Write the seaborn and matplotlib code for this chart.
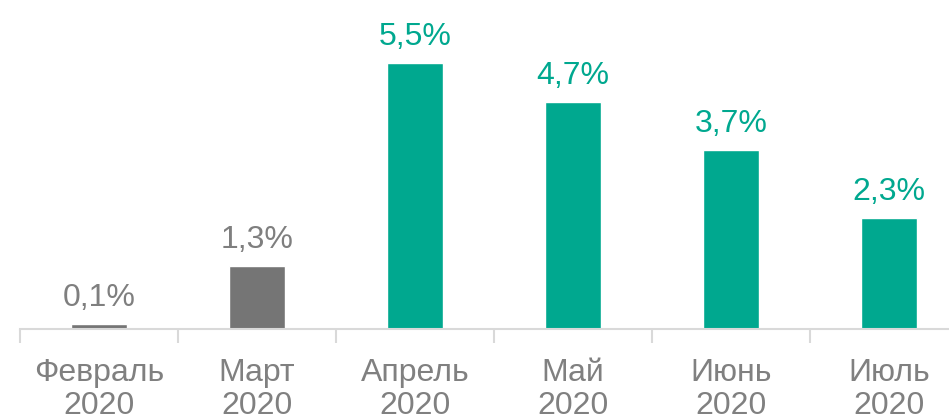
import matplotlib
matplotlib.use("Agg")
import matplotlib.pyplot as plt
import seaborn as sns
import pandas as pd

# данные
months = ["Февраль\n2020", "Март\n2020", "Апрель\n2020", "Май\n2020", "Июнь\n2020", "Июль\n2020"]
values = [0.1, 1.3, 5.5, 4.7, 3.7, 2.3]
labels = ["0,1%", "1,3%", "5,5%", "4,7%", "3,7%", "2,3%"]
bar_colors = ["#757575", "#757575", "#00A88F", "#00A88F", "#00A88F", "#00A88F"]
label_colors = ["#7F7F7F", "#7F7F7F", "#00A88F", "#00A88F", "#00A88F", "#00A88F"]

sns.set_theme(style="white")
plt.rcParams["font.family"] = ["Liberation Sans", "DejaVu Sans"]

df = pd.DataFrame({"month": months, "value": values})

fig = plt.figure(figsize=(9.49, 4.16), dpi=100)
ax = fig.add_axes([20 / 949, 87 / 416, 929 / 949, 329 / 416])

sns.barplot(data=df, x="month", y="value", hue="month", palette=bar_colors,
            width=0.355, legend=False, ax=ax, saturation=1)

for i, (v, t) in enumerate(zip(values, labels)):
    ax.annotate(t, (i, v), xytext=(0, 13), textcoords="offset points",
                ha="center", va="baseline", fontsize=23, color=label_colors[i])

for s in ["top", "right", "left"]:
    ax.spines[s].set_visible(False)
ax.spines["bottom"].set_color("#D9D9D9")
ax.spines["bottom"].set_linewidth(1.5)

ax.set_yticks([])
ax.set_xlabel("")
ax.set_ylabel("")
ax.set_xticks(range(len(months)))
ax.set_xticklabels(months, fontsize=23, color="#808080", linespacing=1.13)
ax.tick_params(axis="x", which="major", length=0, pad=21)
ax.set_xticks([i - 0.5 for i in range(len(months) + 1)], minor=True)
ax.tick_params(axis="x", which="minor", length=10, width=1.5, color="#D9D9D9", bottom=True)

# пределы после тиков, иначе set_xticks расширяет ось
ax.set_xlim(-0.5, 5.38)
ax.set_ylim(0, 6.8)

fig.savefig("out.png", dpi=100)
